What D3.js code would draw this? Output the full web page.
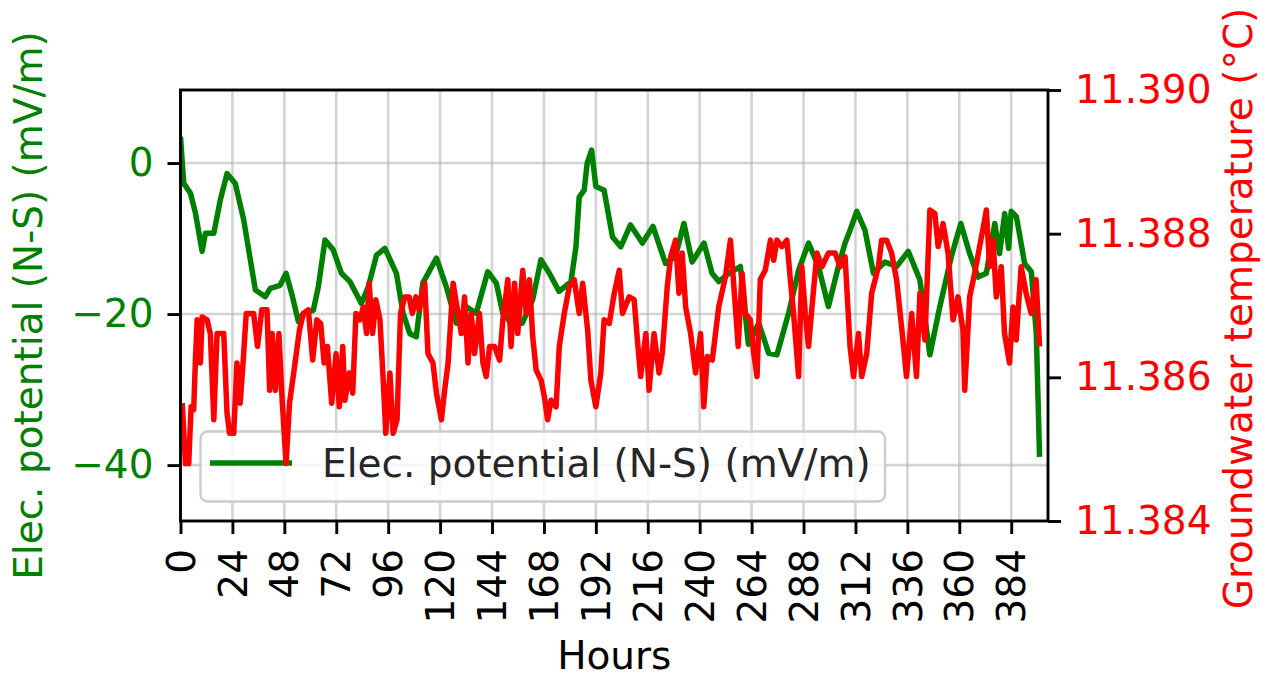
<!DOCTYPE html>
<html>
<head>
<meta charset="utf-8">
<script src="https://cdn.jsdelivr.net/npm/d3@7"></script>
<style>
  body { margin: 0; background: #fff; }
  svg text { font-family: "DejaVu Sans", sans-serif; }
</style>
</head>
<body>
<div id="chart"></div>
<script>
// elec. potential (N-S), left axis
const epHours = [0, 1.5, 4.6, 6.9, 10, 11.5, 15.4, 18.4, 21.5, 25.3, 29.2, 34.6, 39.2, 41.5, 46, 48.8,
  51.4, 54.5, 56.8, 61.4, 63.7, 66.8, 70.6, 74.4, 78.3, 83.6, 86.8, 90.6, 94.5, 99.8, 102.9, 106,
  109, 112, 118.3, 122.9, 127.5, 132, 136.7, 142, 146, 149, 152.9, 158, 162.8, 166.6, 170.5, 175,
  180.5, 182.8, 184.3, 186.6, 188, 190, 192, 195.8, 199.7, 203.5, 208, 213.5, 218.4, 224.2, 228.8,
  232.7, 236.5, 242, 245.7, 248.8, 253.5, 258.8, 262.5, 267.3, 271.9, 275.7, 281.1, 285.7, 290.3,
  294.9, 299.5, 304.1, 307.2, 309.5, 312.6, 316.4, 320.3, 325.6, 331, 336.4, 341.8, 346.4, 351,
  356.3, 360.7, 364.8, 368.7, 372.5, 376.4, 378.6, 381, 382.8, 384, 386.4, 390.2, 393.3, 395.6, 397.1];
const elecPotential = [3.5, -2.7, -4.0, -6.6, -11.7, -9.3, -9.3, -4.9, -1.4, -2.7, -7.5, -16.8, -17.7, -16.6, -16.2, -14.6,
  -17.3, -21.0, -19.9, -19.5, -16.4, -10.2, -11.5, -14.6, -15.7, -18.6, -16.4, -12.2, -11.3, -14.6, -19.9, -22.6,
  -23.0, -15.9, -12.6, -16.4, -21.2, -19.0, -19.9, -14.4, -15.9, -19.9, -21.2, -21.2, -18.1, -12.8, -14.6, -17.0,
  -15.7, -11.1, -4.5, -3.6, 0, 1.7, -3.1, -3.6, -9.8, -11.1, -8.2, -10.6, -8.4, -13.3, -12.4,
  -8.0, -13.1, -10.6, -14.6, -15.7, -14.6, -13.7, -24.0, -21.2, -25.2, -25.4, -19.9, -14.2, -10.6,
  -13.7, -19.0, -13.7, -10.6, -8.9, -6.4, -8.9, -14.6, -13.1, -13.7, -11.7, -15.5, -25.4, -19.0,
  -12.4, -8.0, -12.0, -15.1, -14.6, -8.0, -12.0, -6.7, -11.3, -6.4, -7.1, -13.3, -14.4, -22.6, -38.9];

// groundwater temperature, right axis
const gtHours = [0.8, 2.3, 3.8, 4.9, 6.1, 6.9, 7.7, 9.2, 10.0, 12.3, 13.8, 15.4, 16.9, 20.0, 21.5, 22.7,
  24.6, 26.1, 27.6, 28.9, 30.4, 33.8, 35.6, 37.6, 40.0, 41.2, 42.4, 43.9, 45.5, 47.0, 48.8, 50.4,
  52.5, 55.0, 56.8, 59.1, 61.1, 63.0, 64.8, 66.4, 67.9, 69.9, 71.9, 73.4, 75.0, 76.0, 78.0, 79.6,
  81.1, 82.9, 84.5, 86.0, 87.2, 88.8, 90.3, 92.2, 93.7, 94.9, 96.8, 98.3, 100.1, 101.7, 103.7, 105.7,
  107.2, 108.8, 110.3, 111.8, 112.9, 114.4, 116.7, 118.3, 120.6, 122.1, 123.7, 126.0, 128.3, 129.8,
  131.3, 132.9, 134.4, 135.9, 138.2, 139.8, 141.3, 142.9, 145.2, 147.5, 149.0, 151.3, 152.8, 154.4,
  155.9, 158.2, 159.8, 161.3, 162.8, 164.4, 166.7, 168.2, 169.7, 171.3, 173.6, 175.1, 177.4, 179.7,
  182.0, 184.3, 185.9, 188.2, 189.7, 192.0, 194.3, 195.8, 198.2, 200.5, 202.8, 204.3, 207.4, 209.7,
  211.2, 212.7, 215.1, 216.6, 218.9, 221.2, 222.7, 225.0, 226.6, 228.9, 230.4, 231.9, 233.5, 235.8,
  238.1, 240.4, 241.9, 243.5, 245.8, 248.8, 251.9, 254.2, 255.8, 257.8, 259.6, 261.1, 263.4, 265.0,
  266.5, 268.0, 270.3, 272.7, 274.2, 275.7, 278.0, 280.3, 281.9, 283.4, 285.7, 287.2, 288.8, 290.3,
  291.9, 294.2, 296.5, 299.5, 302.6, 304.9, 307.2, 309.5, 311.1, 313.4, 314.9, 317.2, 319.5, 322.6,
  324.1, 326.4, 328.7, 331.0, 333.3, 335.6, 338.0, 340.2, 341.8, 344.1, 346.4, 348.7, 350.2, 352.5,
  354.8, 357.1, 359.4, 361.7, 362.5, 364.8, 367.1, 369.4, 371.7, 372.5, 374.0, 375.6, 377.1, 379.4,
  380.9, 383.2, 384.8, 386.3, 388.6, 390.9, 393.2, 395.5, 397.1];
const groundTemp = [11.38564, 11.38480, 11.38480, 11.38559, 11.38555, 11.38624, 11.38680, 11.38620, 11.38684, 11.38680, 11.38661, 11.38541, 11.38661, 11.38661, 11.38550, 11.38522,
  11.38522, 11.38620, 11.38564, 11.38620, 11.38689, 11.38689, 11.38643, 11.38694, 11.38694, 11.38582, 11.38661, 11.38582, 11.38661, 11.38568, 11.38480, 11.38564,
  11.38610, 11.38666, 11.38689, 11.38694, 11.38624, 11.38680, 11.38675, 11.38620, 11.38643, 11.38564, 11.38633, 11.38559, 11.38643, 11.38568, 11.38606, 11.38578,
  11.38689, 11.38680, 11.38698, 11.38661, 11.38731, 11.38661, 11.38708, 11.38680, 11.38596, 11.38522, 11.38606, 11.38522, 11.38541, 11.38689, 11.38712, 11.38712,
  11.38689, 11.38712, 11.38694, 11.38717, 11.38731, 11.38633, 11.38620, 11.38578, 11.38541, 11.38582, 11.38620, 11.38731, 11.38689, 11.38661,
  11.38712, 11.38620, 11.38689, 11.38633, 11.38689, 11.38620, 11.38601, 11.38643, 11.38643, 11.38624, 11.38680, 11.38736, 11.38643, 11.38731,
  11.38661, 11.38749, 11.38689, 11.38736, 11.38657, 11.38610, 11.38596, 11.38573, 11.38541, 11.38568, 11.38559, 11.38643, 11.38689, 11.38726,
  11.38736, 11.38689, 11.38731, 11.38666, 11.38596, 11.38559, 11.38606, 11.38680, 11.38675, 11.38717, 11.38749, 11.38689, 11.38712, 11.38708,
  11.38652, 11.38601, 11.38661, 11.38582, 11.38661, 11.38606, 11.38633, 11.38726, 11.38768, 11.38791, 11.38717, 11.38773, 11.38698, 11.38661,
  11.38606, 11.38661, 11.38559, 11.38629, 11.38624, 11.38698, 11.38740, 11.38791, 11.38726, 11.38643, 11.38745, 11.38689, 11.38680, 11.38633,
  11.38601, 11.38736, 11.38749, 11.38791, 11.38763, 11.38791, 11.38782, 11.38791, 11.38736, 11.38689, 11.38601, 11.38754, 11.38689, 11.38643,
  11.38698, 11.38773, 11.38754, 11.38773, 11.38773, 11.38754, 11.38768, 11.38643, 11.38601, 11.38661, 11.38601, 11.38633, 11.38717, 11.38754,
  11.38791, 11.38791, 11.38773, 11.38736, 11.38671, 11.38601, 11.38689, 11.38601, 11.38717, 11.38652, 11.38833, 11.38828, 11.38782, 11.38814,
  11.38773, 11.38680, 11.38712, 11.38666, 11.38582, 11.38712, 11.38745, 11.38782, 11.38819, 11.38833, 11.38754, 11.38791, 11.38712, 11.38754,
  11.38661, 11.38620, 11.38698, 11.38652, 11.38754, 11.38717, 11.38689, 11.38736, 11.38643];

const xTicks = d3.range(0, 385, 24);
const leftTicks = [-40, -20, 0];
const rightTicks = [11.384, 11.386, 11.388, 11.390];

const width = 1269;
const height = 677;
const plot = { left: 180.5, right: 1048, top: 90, bottom: 521 };
const fontSize = 39;
const tickLen = 13;
const lw = 2.9;

const svg = d3.select('#chart')
  .append('svg')
  .attr('width', width)
  .attr('height', height);

const x = d3.scaleLinear().domain([0, 401]).range([plot.left, plot.right]);
const yLeft = d3.scaleLinear().domain([-47.4, 9.67]).range([plot.bottom, plot.top]);
const yRight = d3.scaleLinear().domain([11.384, 11.390]).range([plot.bottom, plot.top]);

svg.append('clipPath').attr('id', 'clip')
  .append('rect')
  .attr('x', plot.left).attr('y', plot.top)
  .attr('width', plot.right - plot.left).attr('height', plot.bottom - plot.top);

// grid
const grid = svg.append('g').attr('stroke', '#b0b0b0').attr('stroke-opacity', 0.55).attr('stroke-width', 2.6);
grid.selectAll('.vx').data(xTicks).enter().append('line')
  .attr('x1', d => x(d)).attr('x2', d => x(d))
  .attr('y1', plot.top).attr('y2', plot.bottom);
grid.selectAll('.hy').data(leftTicks).enter().append('line')
  .attr('x1', plot.left).attr('x2', plot.right)
  .attr('y1', d => yLeft(d)).attr('y2', d => yLeft(d));

// green line
const epLine = d3.line()
  .x((d, i) => x(epHours[i]))
  .y(d => yLeft(d));
svg.append('path')
  .datum(elecPotential)
  .attr('clip-path', 'url(#clip)')
  .attr('fill', 'none')
  .attr('stroke', 'green')
  .attr('stroke-width', 5.5)
  .attr('stroke-linejoin', 'round')
  .attr('d', epLine);

// legend (belongs to the left axes, so the red line is drawn over it)
const legend = svg.append('g');
legend.append('rect')
  .attr('x', 200.5).attr('y', 431.5)
  .attr('width', 684.5).attr('height', 70)
  .attr('rx', 7)
  .attr('fill', '#fff').attr('fill-opacity', 0.8)
  .attr('stroke', '#cccccc').attr('stroke-width', 2.4);
legend.append('line')
  .attr('x1', 210).attr('x2', 292).attr('y1', 463).attr('y2', 463)
  .attr('stroke', 'green').attr('stroke-width', 5.5);
legend.append('text')
  .attr('x', 322).attr('y', 477)
  .style('font-size', `${fontSize}px`)
  .attr('fill', '#262626')
  .text('Elec. potential (N-S) (mV/m)');

// red line
const gtLine = d3.line()
  .x((d, i) => x(gtHours[i]))
  .y(d => yRight(d));
svg.append('path')
  .datum(groundTemp)
  .attr('clip-path', 'url(#clip)')
  .attr('fill', 'none')
  .attr('stroke', 'red')
  .attr('stroke-width', 5.5)
  .attr('stroke-linejoin', 'round')
  .attr('d', gtLine);

// axes
const gx = svg.append('g')
  .attr('transform', `translate(0,${plot.bottom})`)
  .call(d3.axisBottom(x).tickValues(xTicks).tickSize(tickLen).tickFormat(d3.format('d')));
gx.selectAll('text')
  .attr('y', 0)
  .attr('x', -(tickLen + 15))
  .attr('dy', '0.35em')
  .attr('transform', 'rotate(-90)')
  .style('text-anchor', 'end')
  .style('font-size', `${fontSize}px`)
  .attr('fill', '#000');

const gl = svg.append('g')
  .attr('transform', `translate(${plot.left},0)`)
  .call(d3.axisLeft(yLeft).tickValues(leftTicks).tickSize(tickLen).tickPadding(14)
    .tickFormat(d3.format('')));
gl.selectAll('text')
  .style('font-size', `${fontSize}px`)
  .attr('fill', 'green');

const gr = svg.append('g')
  .attr('transform', `translate(${plot.right},0)`)
  .call(d3.axisRight(yRight).tickValues(rightTicks).tickSize(tickLen).tickPadding(14)
    .tickFormat(d3.format('.3f')));
gr.selectAll('text')
  .style('font-size', `${fontSize}px`)
  .attr('fill', 'red');

[gx, gl, gr].forEach(g => {
  g.select('.domain').remove();
  g.selectAll('.tick line').attr('stroke', '#000').attr('stroke-width', lw);
  g.attr('font-family', null);
});

// spines
svg.append('rect')
  .attr('x', plot.left).attr('y', plot.top)
  .attr('width', plot.right - plot.left).attr('height', plot.bottom - plot.top)
  .attr('fill', 'none').attr('stroke', '#000').attr('stroke-width', lw);

// axis titles
svg.append('text')
  .attr('transform', `translate(${(plot.left + plot.right) / 2},669)`)
  .style('text-anchor', 'middle')
  .style('font-size', `${fontSize}px`)
  .text('Hours');

svg.append('text')
  .attr('transform', `translate(42,${(plot.top + plot.bottom) / 2}) rotate(-90)`)
  .style('text-anchor', 'middle')
  .style('font-size', `${fontSize}px`)
  .attr('fill', 'green')
  .text('Elec. potential (N-S) (mV/m)');

svg.append('text')
  .attr('transform', `translate(1252,${(plot.top + plot.bottom) / 2 + 3}) rotate(-90)`)
  .style('text-anchor', 'middle')
  .style('font-size', `${fontSize}px`)
  .attr('fill', 'red')
  .text('Groundwater temperature (°C)');
</script>
</body>
</html>
